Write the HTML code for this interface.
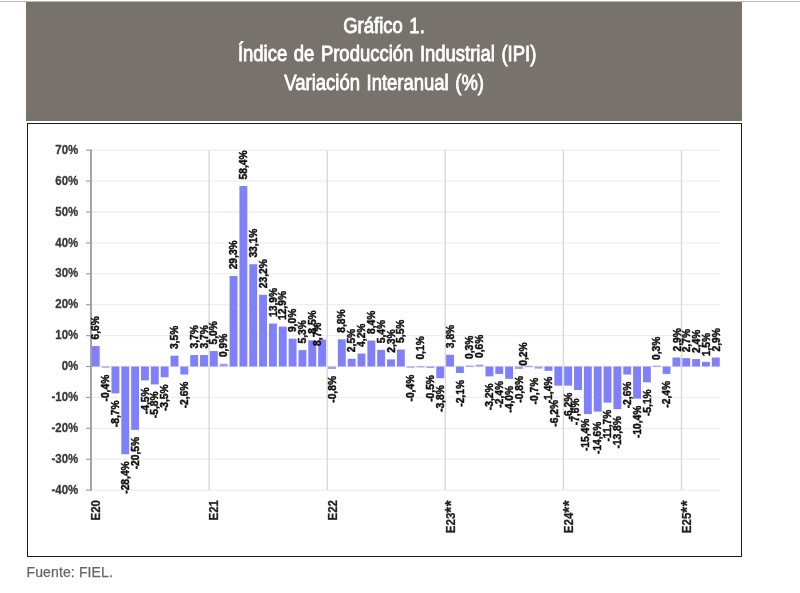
<!DOCTYPE html>
<html lang="es">
<head>
<meta charset="utf-8">
<title>Gráfico 1. Índice de Producción Industrial (IPI)</title>
<style>
html,body{margin:0;padding:0;background:#fff;}
body{width:800px;height:593px;position:relative;overflow:hidden;font-family:"Liberation Sans",sans-serif;}
.topline{position:absolute;left:0;top:0.9px;width:800px;height:1.1px;background:#b9b9b9;}
.head{position:absolute;left:26px;top:2px;width:716px;height:118.7px;background:#77726c;color:#fff;}
.head div{position:absolute;left:0;width:100%;text-align:center;font-size:21.3px;line-height:28px;white-space:nowrap;}
.head span{display:inline-block;transform:scaleX(0.867);transform-origin:50% 50%;-webkit-text-stroke:0.85px #fff;position:relative;word-spacing:1.7px;}
.box{position:absolute;left:27px;top:122.8px;width:715.3px;height:434.2px;border:1.3px solid #1a1a1a;box-sizing:border-box;background:#fff;}
.src{position:absolute;left:26.5px;top:562.6px;font-size:14px;line-height:18px;letter-spacing:0.13px;color:#666;-webkit-text-stroke:0.25px #666;white-space:nowrap;}
svg.chart{position:absolute;left:0;top:0;filter:blur(0.5px);}
.yl text{font:bold 13.2px "Liberation Sans",sans-serif;fill:#383838;stroke:#383838;stroke-width:0.3px;}
.xl text{font:bold 13.2px "Liberation Sans",sans-serif;fill:#222;stroke:#222;stroke-width:0.3px;}
.xl .ast{font-size:17px;letter-spacing:0.7px;}
.dl text{font:bold 10.25px "Liberation Sans",sans-serif;fill:#111;stroke:#111;stroke-width:0.45px;}
</style>
</head>
<body>
<div class="topline"></div>
<div class="head">
<div style="top:10.4px"><span>Gráfico 1.</span></div>
<div style="top:38.1px"><span style="left:3px">Índice de Producción Industrial (IPI)</span></div>
<div style="top:66.5px"><span>Variación Interanual (%)</span></div>
</div>
<div class="box"></div>
<svg class="chart" width="800" height="593" viewBox="0 0 800 593">
<g stroke="#eeeeee" stroke-width="1.3">
<line x1="91.0" y1="490.10" x2="720.0" y2="490.10"/>
<line x1="91.0" y1="459.20" x2="720.0" y2="459.20"/>
<line x1="91.0" y1="428.30" x2="720.0" y2="428.30"/>
<line x1="91.0" y1="397.40" x2="720.0" y2="397.40"/>
<line x1="91.0" y1="366.50" x2="720.0" y2="366.50"/>
<line x1="91.0" y1="335.60" x2="720.0" y2="335.60"/>
<line x1="91.0" y1="304.70" x2="720.0" y2="304.70"/>
<line x1="91.0" y1="273.80" x2="720.0" y2="273.80"/>
<line x1="91.0" y1="242.90" x2="720.0" y2="242.90"/>
<line x1="91.0" y1="212.00" x2="720.0" y2="212.00"/>
<line x1="91.0" y1="181.10" x2="720.0" y2="181.10"/>
<line x1="91.0" y1="150.20" x2="720.0" y2="150.20"/>
</g>
<g stroke="#d9d9dc" stroke-width="1.4">
<line x1="209.10" y1="150.2" x2="209.10" y2="490.1"/>
<line x1="327.21" y1="150.2" x2="327.21" y2="490.1"/>
<line x1="445.31" y1="150.2" x2="445.31" y2="490.1"/>
<line x1="563.42" y1="150.2" x2="563.42" y2="490.1"/>
<line x1="681.52" y1="150.2" x2="681.52" y2="490.1"/>
</g>
<g stroke="#8e8e90" stroke-width="1.6">
<line x1="91.0" y1="149.5" x2="91.0" y2="490.8"/>
</g>
<g stroke="#a0a0a0" stroke-width="1.2">
<line x1="86.0" y1="490.10" x2="91.0" y2="490.10"/>
<line x1="86.0" y1="459.20" x2="91.0" y2="459.20"/>
<line x1="86.0" y1="428.30" x2="91.0" y2="428.30"/>
<line x1="86.0" y1="397.40" x2="91.0" y2="397.40"/>
<line x1="86.0" y1="366.50" x2="91.0" y2="366.50"/>
<line x1="86.0" y1="335.60" x2="91.0" y2="335.60"/>
<line x1="86.0" y1="304.70" x2="91.0" y2="304.70"/>
<line x1="86.0" y1="273.80" x2="91.0" y2="273.80"/>
<line x1="86.0" y1="242.90" x2="91.0" y2="242.90"/>
<line x1="86.0" y1="212.00" x2="91.0" y2="212.00"/>
<line x1="86.0" y1="181.10" x2="91.0" y2="181.10"/>
<line x1="86.0" y1="150.20" x2="91.0" y2="150.20"/>
</g>
<g fill="#8080fa">
<rect x="91.80" y="346.11" width="7.90" height="20.39"/>
<rect x="101.64" y="366.50" width="7.90" height="1.24" opacity="0.75"/>
<rect x="111.48" y="366.50" width="7.90" height="26.88"/>
<rect x="121.33" y="366.50" width="7.90" height="87.76"/>
<rect x="131.17" y="366.50" width="7.90" height="63.34"/>
<rect x="141.01" y="366.50" width="7.90" height="13.90"/>
<rect x="150.85" y="366.50" width="7.90" height="17.92"/>
<rect x="160.69" y="366.50" width="7.90" height="10.81"/>
<rect x="170.54" y="355.69" width="7.90" height="10.81"/>
<rect x="180.38" y="366.50" width="7.90" height="8.03"/>
<rect x="190.22" y="355.07" width="7.90" height="11.43"/>
<rect x="200.06" y="355.07" width="7.90" height="11.43"/>
<rect x="209.90" y="351.05" width="7.90" height="15.45"/>
<rect x="219.75" y="363.72" width="7.90" height="2.78" opacity="0.75"/>
<rect x="229.59" y="275.96" width="7.90" height="90.54"/>
<rect x="239.43" y="186.04" width="7.90" height="180.46"/>
<rect x="249.27" y="264.22" width="7.90" height="102.28"/>
<rect x="259.11" y="294.81" width="7.90" height="71.69"/>
<rect x="268.96" y="323.55" width="7.90" height="42.95"/>
<rect x="278.80" y="326.64" width="7.90" height="39.86"/>
<rect x="288.64" y="338.69" width="7.90" height="27.81"/>
<rect x="298.48" y="350.12" width="7.90" height="16.38"/>
<rect x="308.32" y="340.24" width="7.90" height="26.27"/>
<rect x="318.17" y="339.62" width="7.90" height="26.88"/>
<rect x="328.01" y="366.50" width="7.90" height="2.47" opacity="0.75"/>
<rect x="337.85" y="339.31" width="7.90" height="27.19"/>
<rect x="347.69" y="358.77" width="7.90" height="7.72"/>
<rect x="357.53" y="353.52" width="7.90" height="12.98"/>
<rect x="367.38" y="340.54" width="7.90" height="25.96"/>
<rect x="377.22" y="349.81" width="7.90" height="16.69"/>
<rect x="387.06" y="359.39" width="7.90" height="7.11"/>
<rect x="396.90" y="349.50" width="7.90" height="16.99"/>
<rect x="406.74" y="366.50" width="7.90" height="1.24" opacity="0.75"/>
<rect x="416.59" y="366.19" width="7.90" height="1.20" opacity="0.75"/>
<rect x="426.43" y="366.50" width="7.90" height="1.54" opacity="0.75"/>
<rect x="436.27" y="366.50" width="7.90" height="11.74"/>
<rect x="446.11" y="354.76" width="7.90" height="11.74"/>
<rect x="455.95" y="366.50" width="7.90" height="6.49"/>
<rect x="465.80" y="365.57" width="7.90" height="1.20" opacity="0.75"/>
<rect x="475.64" y="364.65" width="7.90" height="1.85" opacity="0.75"/>
<rect x="485.48" y="366.50" width="7.90" height="9.89"/>
<rect x="495.32" y="366.50" width="7.90" height="7.42"/>
<rect x="505.16" y="366.50" width="7.90" height="12.36"/>
<rect x="515.01" y="366.50" width="7.90" height="2.47" opacity="0.75"/>
<rect x="524.85" y="365.88" width="7.90" height="1.20" opacity="0.75"/>
<rect x="534.69" y="366.50" width="7.90" height="2.16" opacity="0.75"/>
<rect x="544.53" y="366.50" width="7.90" height="4.33"/>
<rect x="554.37" y="366.50" width="7.90" height="19.16"/>
<rect x="564.22" y="366.50" width="7.90" height="19.16"/>
<rect x="574.06" y="366.50" width="7.90" height="23.48"/>
<rect x="583.90" y="366.50" width="7.90" height="47.59"/>
<rect x="593.74" y="366.50" width="7.90" height="45.11"/>
<rect x="603.58" y="366.50" width="7.90" height="36.15"/>
<rect x="613.43" y="366.50" width="7.90" height="42.64"/>
<rect x="623.27" y="366.50" width="7.90" height="8.03"/>
<rect x="633.11" y="366.50" width="7.90" height="32.14"/>
<rect x="642.95" y="366.50" width="7.90" height="15.76"/>
<rect x="652.79" y="365.57" width="7.90" height="1.20" opacity="0.75"/>
<rect x="662.64" y="366.50" width="7.90" height="7.42"/>
<rect x="672.48" y="357.54" width="7.90" height="8.96"/>
<rect x="682.32" y="358.16" width="7.90" height="8.34"/>
<rect x="692.16" y="359.08" width="7.90" height="7.42"/>
<rect x="702.00" y="361.87" width="7.90" height="4.63"/>
<rect x="711.85" y="357.54" width="7.90" height="8.96"/>
</g>
<g class="yl" text-anchor="end">
<text transform="translate(78.3 153.80) scale(0.87 1)">70%</text>
<text transform="translate(78.3 184.70) scale(0.87 1)">60%</text>
<text transform="translate(78.3 215.60) scale(0.87 1)">50%</text>
<text transform="translate(78.3 246.50) scale(0.87 1)">40%</text>
<text transform="translate(78.3 277.40) scale(0.87 1)">30%</text>
<text transform="translate(78.3 308.30) scale(0.87 1)">20%</text>
<text transform="translate(78.3 339.20) scale(0.87 1)">10%</text>
<text transform="translate(78.3 370.10) scale(0.87 1)">0%</text>
<text transform="translate(78.3 401.00) scale(0.87 1)">-10%</text>
<text transform="translate(78.3 431.90) scale(0.87 1)">-20%</text>
<text transform="translate(78.3 462.80) scale(0.87 1)">-30%</text>
<text transform="translate(78.3 493.70) scale(0.87 1)">-40%</text>
</g>
<g class="xl" text-anchor="end">
<text transform="translate(100.32 500.0) rotate(-90) scale(0.87 1)">E20</text>
<text transform="translate(218.43 500.0) rotate(-90) scale(0.87 1)">E21</text>
<text transform="translate(336.53 500.0) rotate(-90) scale(0.87 1)">E22</text>
<text transform="translate(454.63 500.0) rotate(-90) scale(0.87 1)">E23<tspan class="ast" dy="2.6">**</tspan></text>
<text transform="translate(572.74 500.0) rotate(-90) scale(0.87 1)">E24<tspan class="ast" dy="2.6">**</tspan></text>
<text transform="translate(690.84 500.0) rotate(-90) scale(0.87 1)">E25<tspan class="ast" dy="2.6">**</tspan></text>
</g>
<g class="dl">
<text text-anchor="start" transform="translate(99.35 339.51) rotate(-90)">6,6%</text>
<text text-anchor="end" transform="translate(109.19 374.74) rotate(-90)">-0,4%</text>
<text text-anchor="end" transform="translate(119.03 400.38) rotate(-90)">-8,7%</text>
<text text-anchor="end" transform="translate(128.88 461.26) rotate(-90)">-28,4%</text>
<text text-anchor="end" transform="translate(138.72 436.85) rotate(-90)">-20,5%</text>
<text text-anchor="end" transform="translate(148.56 387.40) rotate(-90)">-4,5%</text>
<text text-anchor="end" transform="translate(158.40 391.42) rotate(-90)">-5,8%</text>
<text text-anchor="end" transform="translate(168.24 384.31) rotate(-90)">-3,5%</text>
<text text-anchor="start" transform="translate(178.09 349.08) rotate(-90)">3,5%</text>
<text text-anchor="end" transform="translate(187.93 381.53) rotate(-90)">-2,6%</text>
<text text-anchor="start" transform="translate(197.77 348.47) rotate(-90)">3,7%</text>
<text text-anchor="start" transform="translate(207.61 348.47) rotate(-90)">3,7%</text>
<text text-anchor="start" transform="translate(217.45 344.45) rotate(-90)">5,0%</text>
<text text-anchor="start" transform="translate(227.30 357.12) rotate(-90)">0,9%</text>
<text text-anchor="start" transform="translate(237.14 269.36) rotate(-90)">29,3%</text>
<text text-anchor="start" transform="translate(246.98 179.44) rotate(-90)">58,4%</text>
<text text-anchor="start" transform="translate(256.82 257.62) rotate(-90)">33,1%</text>
<text text-anchor="start" transform="translate(266.66 288.21) rotate(-90)">23,2%</text>
<text text-anchor="start" transform="translate(276.51 316.95) rotate(-90)">13,9%</text>
<text text-anchor="start" transform="translate(286.35 320.04) rotate(-90)">12,9%</text>
<text text-anchor="start" transform="translate(296.19 332.09) rotate(-90)">9,0%</text>
<text text-anchor="start" transform="translate(306.03 343.52) rotate(-90)">5,3%</text>
<text text-anchor="start" transform="translate(315.87 333.63) rotate(-90)">8,5%</text>
<text text-anchor="start" transform="translate(321.12 345.92) rotate(-90)">8,7%</text>
<text text-anchor="end" transform="translate(335.56 375.97) rotate(-90)">-0,8%</text>
<text text-anchor="start" transform="translate(345.40 332.71) rotate(-90)">8,8%</text>
<text text-anchor="start" transform="translate(355.24 352.17) rotate(-90)">2,5%</text>
<text text-anchor="start" transform="translate(365.08 346.92) rotate(-90)">4,2%</text>
<text text-anchor="start" transform="translate(374.93 333.94) rotate(-90)">8,4%</text>
<text text-anchor="start" transform="translate(384.77 343.21) rotate(-90)">5,4%</text>
<text text-anchor="start" transform="translate(394.61 352.79) rotate(-90)">2,3%</text>
<text text-anchor="start" transform="translate(404.45 342.90) rotate(-90)">5,5%</text>
<text text-anchor="end" transform="translate(414.29 374.74) rotate(-90)">-0,4%</text>
<text text-anchor="start" transform="translate(424.14 359.59) rotate(-90)">0,1%</text>
<text text-anchor="end" transform="translate(433.98 375.05) rotate(-90)">-0,5%</text>
<text text-anchor="end" transform="translate(443.82 385.24) rotate(-90)">-3,8%</text>
<text text-anchor="start" transform="translate(453.66 348.16) rotate(-90)">3,8%</text>
<text text-anchor="end" transform="translate(463.50 379.99) rotate(-90)">-2,1%</text>
<text text-anchor="start" transform="translate(473.35 358.97) rotate(-90)">0,3%</text>
<text text-anchor="start" transform="translate(483.19 358.05) rotate(-90)">0,6%</text>
<text text-anchor="end" transform="translate(493.03 383.39) rotate(-90)">-3,2%</text>
<text text-anchor="end" transform="translate(502.87 380.92) rotate(-90)">-2,4%</text>
<text text-anchor="end" transform="translate(512.71 385.86) rotate(-90)">-4,0%</text>
<text text-anchor="end" transform="translate(522.56 375.97) rotate(-90)">-0,8%</text>
<text text-anchor="start" transform="translate(527.40 365.78) rotate(-90)">0,2%</text>
<text text-anchor="end" transform="translate(538.44 377.66) rotate(-90)">-0,7%</text>
<text text-anchor="end" transform="translate(552.08 376.53) rotate(-90)">-1,4%</text>
<text text-anchor="end" transform="translate(557.92 399.96) rotate(-90)">-6,2%</text>
<text text-anchor="end" transform="translate(571.77 392.66) rotate(-90)">-6,2%</text>
<text text-anchor="end" transform="translate(578.81 398.48) rotate(-90)">-7,6%</text>
<text text-anchor="end" transform="translate(588.65 418.59) rotate(-90)">-15,4%</text>
<text text-anchor="end" transform="translate(600.69 421.61) rotate(-90)">-14,6%</text>
<text text-anchor="end" transform="translate(611.13 409.65) rotate(-90)">-11,7%</text>
<text text-anchor="end" transform="translate(620.98 416.14) rotate(-90)">-13,8%</text>
<text text-anchor="end" transform="translate(630.82 381.53) rotate(-90)">-2,6%</text>
<text text-anchor="end" transform="translate(640.66 405.64) rotate(-90)">-10,4%</text>
<text text-anchor="end" transform="translate(650.50 389.26) rotate(-90)">-5,1%</text>
<text text-anchor="start" transform="translate(660.34 359.97) rotate(-90)">0,3%</text>
<text text-anchor="end" transform="translate(670.19 380.92) rotate(-90)">-2,4%</text>
<text text-anchor="start" transform="translate(680.63 351.44) rotate(-90)">2,9%</text>
<text text-anchor="start" transform="translate(690.27 352.36) rotate(-90)">2,7%</text>
<text text-anchor="start" transform="translate(700.01 352.98) rotate(-90)">2,4%</text>
<text text-anchor="start" transform="translate(709.85 356.26) rotate(-90)">1,5%</text>
<text text-anchor="start" transform="translate(719.70 351.44) rotate(-90)">2,9%</text>
</g>
</svg>
<div class="src">Fuente: FIEL.</div>
</body>
</html>
